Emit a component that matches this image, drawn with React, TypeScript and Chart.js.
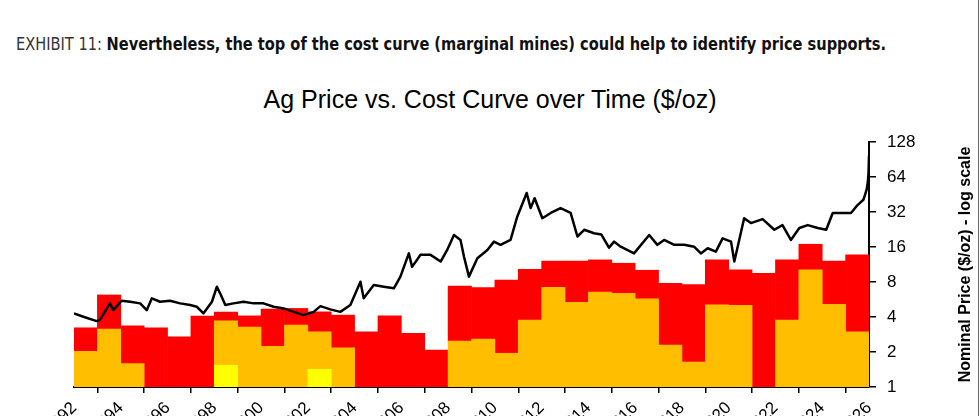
import React, { useEffect, useRef } from 'react';
import { Chart, registerables } from 'chart.js';

Chart.register(...registerables);

// Cost-curve bars: one bar per year (1992..2025)
const costYears = [
  '1992', '1993', '1994', '1995', '1996', '1997', '1998', '1999', '2000', '2001',
  '2002', '2003', '2004', '2005', '2006', '2007', '2008', '2009', '2010', '2011',
  '2012', '2013', '2014', '2015', '2016', '2017', '2018', '2019', '2020', '2021',
  '2022', '2023', '2024', '2025',
];
// top of the bottom (yellow) segment
const yellowTop: (number | null)[] = [
  null, null, null, null, null, null, 1.54, null, null, null,
  1.42, null, null, null, null, null, null, null, null, null,
  null, null, null, null, null, null, null, null, null, null,
  null, null, null, null,
];
// top of the middle (orange) segment
const orangeTop: (number | null)[] = [
  2.03, 3.15, 1.59, null, null, null, 3.71, 3.27, 2.24, 3.41,
  2.98, 2.17, null, null, null, null, 2.48, 2.58, 1.95, 3.76,
  7.2, 5.35, 6.56, 6.39, 5.72, 2.29, 1.64, 5.1, 5.04, null,
  3.76, 10.2, 5.13, 2.98,
];
// top of the upper (red) segment = marginal mines
const redTop: number[] = [
  3.23, 6.19, 3.36, 3.23, 2.7, 4.07, 4.41, 4.09, 4.68, 4.74,
  4.43, 4.15, 2.98, 4.09, 2.89, 2.08, 7.39, 7.15, 8.32, 10.3,
  12.1, 12.1, 12.4, 11.6, 10.1, 7.8, 7.6, 12.4, 10.2, 9.5,
  12.4, 16.9, 12.1, 13.7,
];

// Silver price line (year, $/oz)
const priceYears = [
  1992.0, 1992.4, 1992.97, 1993.1, 1993.54, 1993.68, 1994.04, 1994.4, 1994.83, 1995.11,
  1995.33, 1995.68, 1996.11, 1996.54, 1996.97, 1997.25, 1997.54, 1997.9, 1998.11, 1998.25,
  1998.47, 1998.82, 1999.25, 1999.68, 2000.1, 2000.54, 2000.97, 2001.4, 2001.82, 2002.25,
  2002.54, 2002.96, 2003.39, 2003.82, 2004.25, 2004.39, 2004.82, 2005.25, 2005.68, 2005.96,
  2006.32, 2006.46, 2006.82, 2007.25, 2007.68, 2007.96, 2008.25, 2008.53, 2008.68, 2008.89,
  2009.25, 2009.68, 2009.96, 2010.24, 2010.67, 2010.96, 2011.36, 2011.53, 2011.7, 2012.03,
  2012.39, 2012.81, 2013.24, 2013.53, 2013.82, 2014.24, 2014.55, 2014.88, 2015.1, 2015.38,
  2015.95, 2016.6, 2016.95, 2017.24, 2017.67, 2018.1, 2018.52, 2018.81, 2019.1, 2019.45,
  2019.74, 2020.1, 2020.24, 2020.45, 2020.66, 2020.95, 2021.45, 2021.95, 2022.3, 2022.66,
  2023.02, 2023.38, 2023.81, 2024.17, 2024.45, 2024.88, 2025.23, 2025.52, 2025.76, 2025.83,
  2025.9, 2025.95, 2025.98, 2026.0,
];
const priceValues = [
  4.3, 4.02, 3.69, 3.76, 5.24, 4.58, 5.52, 5.41, 5.24, 4.58,
  5.79, 5.41, 5.52, 5.24, 5.07, 4.9, 4.3, 5.41, 7.29, 6.39,
  5.07, 5.24, 5.41, 5.24, 5.24, 4.9, 4.74, 4.43, 4.15, 4.43,
  4.96, 4.65, 4.43, 5.07, 8.04, 5.79, 7.54, 7.29, 7.06, 8.9,
  14.1, 10.8, 13.7, 13.7, 12.0, 15.1, 20.3, 18.4, 13.2, 8.9,
  12.8, 15.1, 17.8, 16.7, 18.4, 29.3, 46.6, 34.6, 42.0, 28.3,
  31.4, 34.6, 31.4, 19.7, 22.5, 21.0, 20.5, 15.8, 17.8, 16.1,
  14.1, 20.3, 16.7, 18.4, 16.7, 16.7, 16.1, 14.1, 15.6, 14.6,
  19.0, 17.8, 12.0, 18.4, 28.3, 25.7, 27.8, 22.5, 24.7, 18.4,
  23.3, 24.7, 23.3, 22.5, 31.4, 31.4, 31.4, 36.9, 40.8, 45.0,
  50.0, 58.0, 70.0, 98.0,
];

const yTickValues = [1, 2, 4, 8, 16, 32, 64, 128];
const xMin = 1992;
const xMax = 2026;
const xStep = 2;

const headerLight = 'EXHIBIT 11: ';
const headerBold = 'Nevertheless, the top of the cost curve (marginal mines) could help to identify price supports.';
const chartTitle = 'Ag Price vs. Cost Curve over Time ($/oz)';
const yAxisTitle = 'Nominal Price ($/oz) - log scale';

const COLORS = {
  yellow: '#FFFF00',
  orange: '#FFBF00',
  red: '#FF0000',
  line: '#000000',
};

const FONT = '"Liberation Sans", Arial, Helvetica, sans-serif';

export default function App() {
  const canvasRef = useRef<HTMLCanvasElement>(null);
  const headRef = useRef<HTMLSpanElement>(null);

  useEffect(() => {
    document.body.style.margin = '0';
    const head = headRef.current;
    if (head) {
      head.style.transform = 'none';
      const w = head.getBoundingClientRect().width;
      if (w > 0) head.style.transform = `scaleX(${870 / w})`;
    }
    const canvas = canvasRef.current;
    if (!canvas) return;

    const yellowData = yellowTop.map((v) => (v == null ? null : [1, v]));
    const orangeData = orangeTop.map((v, i) => (v == null ? null : [yellowTop[i] ?? 1, v]));
    const redData = redTop.map((v, i) => [orangeTop[i] ?? 1, v]);
    const lineData = priceYears.map((x, i) => ({ x, y: priceValues[i] }));

    const titlePlugin = {
      id: 'rightAxisTitle',
      afterDraw(chart: any) {
        const { ctx, chartArea } = chart;
        ctx.save();
        ctx.translate(chartArea.right + 97, (chartArea.top + chartArea.bottom) / 2);
        ctx.rotate(-Math.PI / 2);
        ctx.font = `bold 16px ${FONT}`;
        ctx.fillStyle = '#000';
        ctx.textAlign = 'center';
        ctx.textBaseline = 'middle';
        ctx.fillText(yAxisTitle, 0, 0);
        ctx.restore();
      },
    };

    const barCommon = {
      xAxisID: 'xb',
      yAxisID: 'y',
      barPercentage: 1,
      categoryPercentage: 1,
      grouped: false,
      borderWidth: 0,
      order: 1,
    };

    const chart = new Chart(canvas, {
      type: 'bar',
      data: {
        labels: costYears,
        datasets: [
          {
            type: 'line',
            label: 'Ag price',
            data: lineData as any,
            xAxisID: 'x',
            yAxisID: 'y',
            borderColor: COLORS.line,
            borderWidth: 2.5,
            borderJoinStyle: 'round',
            pointRadius: 0,
            tension: 0,
            fill: false,
            order: 0,
          } as any,
          { ...barCommon, label: 'low', data: yellowData as any, backgroundColor: COLORS.yellow } as any,
          { ...barCommon, label: 'mid', data: orangeData as any, backgroundColor: COLORS.orange } as any,
          { ...barCommon, label: 'high', data: redData as any, backgroundColor: COLORS.red } as any,
        ],
      },
      options: {
        animation: false,
        responsive: false,
        devicePixelRatio: 1,
        layout: { padding: { left: 74, top: 142, right: 0, bottom: 0 } },
        plugins: {
          legend: { display: false },
          tooltip: { enabled: false },
          title: { display: false },
        },
        scales: {
          xb: {
            type: 'category',
            display: false,
            offset: true,
            grid: { display: false },
          },
          x: {
            type: 'linear',
            position: 'bottom',
            min: xMin,
            max: xMax,
            offset: false,
            afterFit: (s: any) => {
              s.height = 29;
            },
            ticks: {
              stepSize: xStep,
              autoSkip: false,
              maxRotation: 45,
              minRotation: 45,
              padding: 5,
              color: '#000',
              font: { family: FONT, size: 17 },
              callback: (v: any) => String(v),
            },
            grid: { drawOnChartArea: false, color: '#000', tickLength: 6, lineWidth: 1.5 },
            border: { display: true, color: '#000', width: 2 },
          },
          y: {
            type: 'logarithmic',
            position: 'right',
            min: 1,
            max: 128,
            afterBuildTicks: (s: any) => {
              s.ticks = yTickValues.map((v) => ({ value: v }));
            },
            afterFit: (s: any) => {
              s.width = 111;
            },
            ticks: {
              color: '#000',
              padding: 11,
              font: { family: FONT, size: 17 },
              callback: (v: any) => String(v),
            },
            grid: { drawOnChartArea: false, color: '#000', tickLength: 7, lineWidth: 1.5 },
            border: { display: true, color: '#000', width: 2 },
          },
        },
      } as any,
      plugins: [titlePlugin],
    });

    return () => chart.destroy();
  }, []);

  return (
    <div style={{ position: 'relative', width: 980, height: 416, background: '#fff', overflow: 'hidden' }}>
      <div
        style={{
          position: 'absolute',
          left: 16,
          top: 33,
          whiteSpace: 'nowrap',
          fontSize: 18,
          lineHeight: '22px',
          color: '#111',
        }}
      >
        <span
          ref={headRef}
          style={{
            display: 'inline-block',
            transformOrigin: 'left center',
            fontFamily: '"Liberation Sans Narrow", "DejaVu Sans Condensed", "Liberation Sans", sans-serif',
          }}
        >
          <span style={{ fontWeight: 300, color: '#333' }}>{headerLight}</span>
          <span style={{ fontWeight: 700 }}>{headerBold}</span>
        </span>
      </div>
      <div
        style={{
          position: 'absolute',
          left: 0,
          width: 980,
          top: 84,
          textAlign: 'center',
          fontFamily: FONT,
          fontSize: 25,
          lineHeight: '30px',
          color: '#000',
        }}
      >
        {chartTitle}
      </div>
      <canvas
        ref={canvasRef}
        width={980}
        height={416}
        style={{ position: 'absolute', left: 0, top: 0, width: 980, height: 416 }}
      />
      <div style={{ position: 'absolute', left: 978, top: 0, width: 1, height: 416, background: '#666' }} />
    </div>
  );
}
